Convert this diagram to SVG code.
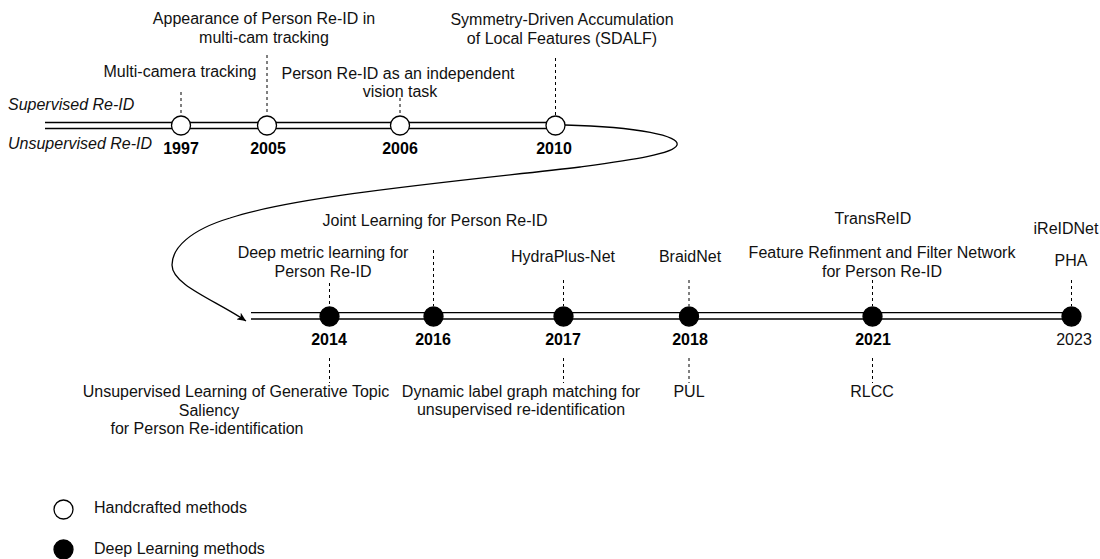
<svg xmlns="http://www.w3.org/2000/svg" width="1100" height="559" viewBox="0 0 1100 559">
<style>
.t{font-family:"Liberation Sans",Arial,Helvetica,sans-serif;font-size:16px;fill:#111;text-anchor:middle}
.l{text-anchor:start}
.it{font-style:italic}
.yr{font-weight:bold;fill:#000}
.dash{stroke:#000;stroke-width:1;stroke-dasharray:3 3;fill:none}
.rail{stroke:#000;stroke-width:1.3;fill:none}
.open{fill:#fff;stroke:#000;stroke-width:1.3}
.full{fill:#000;stroke:#000;stroke-width:1.3}
</style>
<defs>
<marker id="arr" markerWidth="10" markerHeight="8" refX="9" refY="4" orient="auto" markerUnits="userSpaceOnUse">
<path d="M0,0 L9,4 L0,8 L2.5,4 Z" fill="#000"/>
</marker>
</defs>
<rect width="1100" height="559" fill="#fff"/>

<g id="connectors">
<line class="rail" x1="45" y1="122.5" x2="555" y2="122.5"/>
<line class="rail" x1="45" y1="128.5" x2="555" y2="128.5"/>
<path class="rail" d="M565,125 C640,127 680,136 677,145 C674,154 630,160 580,167 C470,180 300,195 230,218 C190,230 172,248 172,265 C172,285 215,300 246,321" marker-end="url(#arr)"/>
<line class="rail" x1="251" y1="312.7" x2="1071" y2="312.7"/>
<line class="rail" x1="251" y1="319" x2="1071" y2="319"/>
</g>

<g id="axis-labels">
<text class="t l it" x="8" y="110">Supervised Re-ID</text>
<text class="t l it" x="8" y="149">Unsupervised Re-ID</text>
</g>

<g id="n1997">
<line class="dash" x1="181" y1="92" x2="181" y2="115"/>
<circle class="open" cx="181" cy="125.5" r="9.5"/>
<text class="t yr" x="181" y="154">1997</text>
<text class="t" x="180" y="77">Multi-camera tracking</text>
</g>

<g id="n2005">
<line class="dash" x1="267" y1="55" x2="267" y2="115"/>
<circle class="open" cx="267" cy="125.5" r="9.5"/>
<text class="t yr" x="268" y="154">2005</text>
<text class="t" x="264" y="24">Appearance of Person Re-ID in</text>
<text class="t" x="264" y="43">multi-cam tracking</text>
</g>

<g id="n2006">
<line class="dash" x1="400" y1="98" x2="400" y2="115"/>
<circle class="open" cx="400" cy="125.5" r="9.5"/>
<text class="t yr" x="400" y="154">2006</text>
<text class="t" x="398" y="79">Person Re-ID as an independent</text>
<text class="t" x="400" y="97">vision task</text>
</g>

<g id="n2010">
<line class="dash" x1="555.5" y1="58" x2="555.5" y2="115"/>
<circle class="open" cx="555.5" cy="125.5" r="9.5"/>
<text class="t yr" x="554" y="154">2010</text>
<text class="t" x="562" y="25">Symmetry-Driven Accumulation</text>
<text class="t" x="562" y="44">of Local Features (SDALF)</text>
</g>

<g id="n2014">
<line class="dash" x1="329.5" y1="283" x2="329.5" y2="306"/>
<circle class="full" cx="329.5" cy="316.5" r="9.5"/>
<text class="t yr" x="329" y="345">2014</text>
<text class="t" x="323" y="258">Deep metric learning for</text>
<text class="t" x="323" y="277">Person Re-ID</text>
<line class="dash" x1="329.5" y1="358" x2="329.5" y2="383"/>
<text class="t" x="236" y="397">Unsupervised Learning of Generative Topic</text>
<text class="t" x="209" y="416">Saliency</text>
<text class="t" x="207" y="434">for Person Re-identification</text>
</g>

<g id="n2016">
<line class="dash" x1="433.5" y1="250" x2="433.5" y2="306"/>
<circle class="full" cx="433.5" cy="316.5" r="9.5"/>
<text class="t yr" x="433" y="345">2016</text>
<text class="t" x="435" y="226">Joint Learning for Person Re-ID</text>
</g>

<g id="n2017">
<line class="dash" x1="563.5" y1="280" x2="563.5" y2="306"/>
<circle class="full" cx="563.5" cy="316.5" r="9.5"/>
<text class="t yr" x="563" y="345">2017</text>
<text class="t" x="563" y="262">HydraPlus-Net</text>
<line class="dash" x1="563.5" y1="358" x2="563.5" y2="383"/>
<text class="t" x="521" y="397">Dynamic label graph matching for</text>
<text class="t" x="521" y="415">unsupervised re-identification</text>
</g>

<g id="n2018">
<line class="dash" x1="689" y1="280" x2="689" y2="306"/>
<circle class="full" cx="689" cy="316.5" r="9.5"/>
<text class="t yr" x="690" y="345">2018</text>
<text class="t" x="690" y="262">BraidNet</text>
<line class="dash" x1="689" y1="358" x2="689" y2="383"/>
<text class="t" x="689" y="397">PUL</text>
</g>

<g id="n2021">
<line class="dash" x1="872.5" y1="280" x2="872.5" y2="306"/>
<circle class="full" cx="872.5" cy="316.5" r="9.5"/>
<text class="t yr" x="873" y="345">2021</text>
<text class="t" x="873" y="224">TransReID</text>
<text class="t" x="882" y="258">Feature Refinment and Filter Network</text>
<text class="t" x="882" y="277">for Person Re-ID</text>
<line class="dash" x1="872.5" y1="358" x2="872.5" y2="383"/>
<text class="t" x="872" y="397">RLCC</text>
</g>

<g id="n2023">
<line class="dash" x1="1071.5" y1="280" x2="1071.5" y2="306"/>
<circle class="full" cx="1071.5" cy="316.5" r="9.5"/>
<text class="t" x="1074" y="345">2023</text>
<text class="t" x="1066" y="234">iReIDNet</text>
<text class="t" x="1071" y="266">PHA</text>
</g>

<g id="legend-handcrafted">
<circle class="open" cx="63.5" cy="509.5" r="9.5"/>
<text class="t l" x="94" y="513">Handcrafted methods</text>
</g>
<g id="legend-deep">
<circle class="full" cx="63.5" cy="549.5" r="9.5"/>
<text class="t l" x="94" y="554">Deep Learning methods</text>
</g>
</svg>
